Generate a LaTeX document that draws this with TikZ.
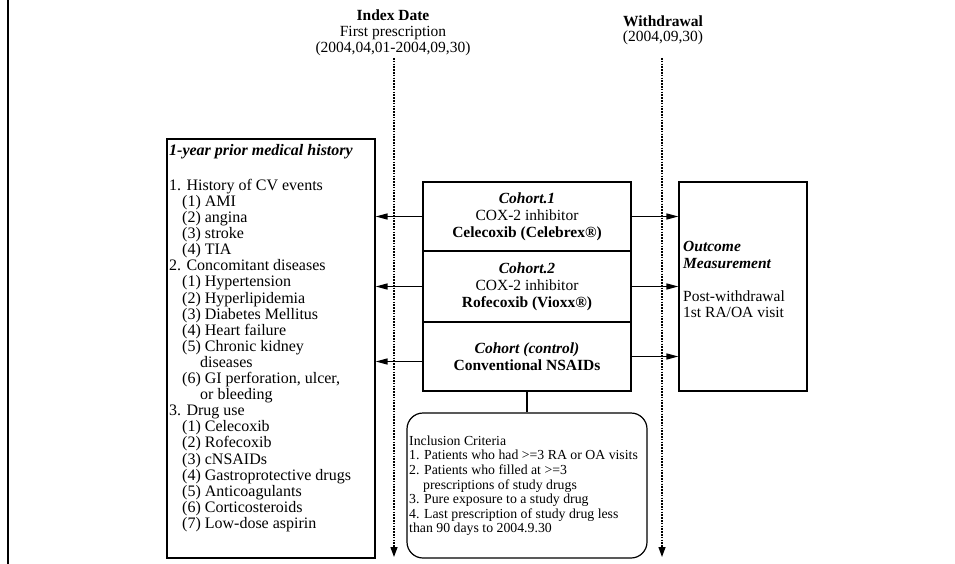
\documentclass[tikz,border=0pt]{standalone}
\usepackage{fontspec}
\setmainfont{Liberation Serif}
\usetikzlibrary{arrows.meta,calc}
\begin{document}
\begin{tikzpicture}[x=1pt,y=-1pt,
  box/.style={draw, line width=1.2pt, inner sep=0pt},
  arr/.style={line width=1.4pt, -{Triangle[length=12pt,width=6pt]}},
  tline/.style={line width=1.3pt, dash pattern=on 1.6pt off 1.2pt, -{Triangle[length=10pt,width=7pt]}},
  txt/.style={inner sep=0pt, font=\fontsize{16}{16.1}\selectfont},
  small/.style={inner sep=0pt, font=\fontsize{13.8}{14.6}\selectfont}
]
\useasboundingbox (0,0) rectangle (955,564);
\fill[white] (0,0) rectangle (955,564);
% left edge rule
\draw[line width=2.5pt] (8,0) -- (8,564);

% top labels
\node[txt, anchor=north, align=center, font=\fontsize{15.5}{16}\selectfont] (idx) at (393,9.5)
  {\textbf{Index Date}\\First prescription\\(2004,04,01-2004,09,30)};
\node[txt, anchor=north, align=center, font=\fontsize{15.5}{15}\selectfont] (wd) at (663,15.5)
  {\textbf{Withdrawal}\\(2004,09,30)};

% boxes
\node[box, minimum width=208pt, minimum height=419pt] (leftbox) at (271,348.5) {};
\node[box, minimum width=208pt, minimum height=69pt, align=center, font=\fontsize{15.5}{17}\selectfont] (c1) at (527,216.5)
  {\textbf{\textit{Cohort.1}}\\COX-2 inhibitor\\\textbf{Celecoxib (Celebrex®)}};
\node[box, minimum width=208pt, minimum height=71pt, align=center, font=\fontsize{15.5}{17}\selectfont] (c2) at (527,286.5)
  {\textbf{\textit{Cohort.2}}\\COX-2 inhibitor\\\textbf{Rofecoxib (Vioxx®)}};
\node[box, minimum width=208pt, minimum height=69pt, align=center, font=\fontsize{15.5}{17}\selectfont] (c3) at (527,356.5)
  {\textbf{\textit{Cohort (control)}}\\\textbf{Conventional NSAIDs}};
\node[box, minimum width=128pt, minimum height=209pt] (outbox) at (743,286.5) {};
\node[box, rounded corners=16pt, minimum width=240pt, minimum height=145pt] (incl) at (527,485.5) {};

% left box text
\node[txt, anchor=north west, align=left] (lefttxt) at (169,144.5) {%
\textbf{\textit{1-year prior medical history}}\\[18.4pt]
1. History of CV events\\
\hspace*{13pt}(1) AMI\\
\hspace*{13pt}(2) angina\\
\hspace*{13pt}(3) stroke\\
\hspace*{13pt}(4) TIA\\
2. Concomitant diseases\\
\hspace*{13pt}(1) Hypertension\\
\hspace*{13pt}(2) Hyperlipidemia\\
\hspace*{13pt}(3) Diabetes Mellitus\\
\hspace*{13pt}(4) Heart failure\\
\hspace*{13pt}(5) Chronic kidney\\
\hspace*{31pt}diseases\\
\hspace*{13pt}(6) GI perforation, ulcer,\\
\hspace*{31pt}or bleeding\\
3. Drug use\\
\hspace*{13pt}(1) Celecoxib\\
\hspace*{13pt}(2) Rofecoxib\\
\hspace*{13pt}(3) cNSAIDs\\
\hspace*{13pt}(4) Gastroprotective drugs\\
\hspace*{13pt}(5) Anticoagulants\\
\hspace*{13pt}(6) Corticosteroids\\
\hspace*{13pt}(7) Low-dose aspirin};

% outcome text
\node[txt, anchor=north west, align=left, font=\fontsize{15.5}{16.5}\selectfont] (outtxt) at (683,241.5) {%
\textbf{\textit{Outcome}}\\
\textbf{\textit{Measurement}}\\[16.5pt]
Post-withdrawal\\
1st RA/OA visit};

% inclusion text
\node[small, anchor=north west, align=left] (incltxt) at (409,435.5) {%
Inclusion Criteria\\
1. Patients who had >=3 RA or OA visits\\
2. Patients who filled at >=3\\
\hspace*{14pt}prescriptions of study drugs\\
3. Pure exposure to a study drug\\
4. Last prescription of study drug less\\
than 90 days to 2004.9.30};

% timelines
\coordinate (itop) at (394,58);
\coordinate (ibot) at (394,557);
\coordinate (wtop) at (662,58);
\coordinate (wbot) at (662,557);
\draw[tline] (itop) -- (ibot);
\draw[tline] (wtop) -- (wbot);

% arrows
\draw[arr] (c1.west) -- (c1.west -| leftbox.east);
\draw[arr] (c2.west) -- (c2.west -| leftbox.east);
\draw[arr] ($(c3.west)+(0,5)$) -- ($(c3.west -| leftbox.east)+(0,5)$);
\draw[arr] (c1.east) -- (c1.east -| outbox.west);
\draw[arr] (c2.east) -- (c2.east -| outbox.west);
\draw[arr] (c3.east) -- (c3.east -| outbox.west);
\draw[line width=1.2pt] (c3.south) -- (incl.north);
\end{tikzpicture}
\end{document}
